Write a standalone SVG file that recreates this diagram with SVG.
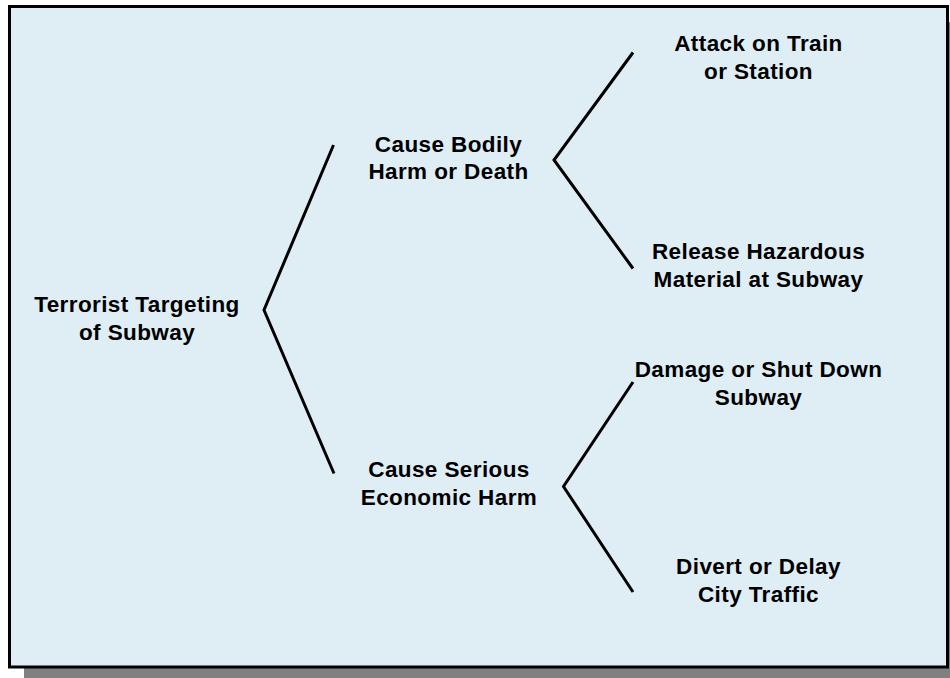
<svg xmlns="http://www.w3.org/2000/svg" width="950" height="678" viewBox="0 0 950 678">
<style>
.t{font-family:"Liberation Sans",Arial,sans-serif;font-weight:bold;font-size:22.5px;fill:#000;text-anchor:middle;letter-spacing:0.4px}
.c{fill:none;stroke:#000;stroke-width:3;stroke-linejoin:miter;stroke-linecap:butt}
</style>
<rect x="24" y="22" width="940" height="670" fill="#808080"/>
<rect x="9.5" y="6.5" width="938" height="660.5" fill="#DFEDF5" stroke="#000" stroke-width="3"/>
<g id="connectors">
<polyline class="c" points="333.5,145 264,310 334,473.5"/>
<polyline class="c" points="633,52.5 554,160 633,268.5"/>
<polyline class="c" points="633,382 563.5,486.5 633,592"/>
</g>
<g id="root"><text class="t" x="137" y="311.5">Terrorist Targeting</text><text class="t" x="137" y="340">of Subway</text></g>
<g id="bodily"><text class="t" x="448.5" y="151.5">Cause Bodily</text><text class="t" x="448.5" y="178.5">Harm or Death</text></g>
<g id="economic"><text class="t" x="449" y="476.5">Cause Serious</text><text class="t" x="449" y="505">Economic Harm</text></g>
<g id="attack"><text class="t" x="758.5" y="50.5">Attack on Train</text><text class="t" x="758.5" y="79">or Station</text></g>
<g id="release"><text class="t" x="758.5" y="258.5">Release Hazardous</text><text class="t" x="758.5" y="286.5">Material at Subway</text></g>
<g id="damage"><text class="t" x="758.5" y="376.5">Damage or Shut Down</text><text class="t" x="758.5" y="404.5">Subway</text></g>
<g id="divert"><text class="t" x="758.5" y="573.5">Divert or Delay</text><text class="t" x="758.5" y="601.5">City Traffic</text></g>
</svg>
